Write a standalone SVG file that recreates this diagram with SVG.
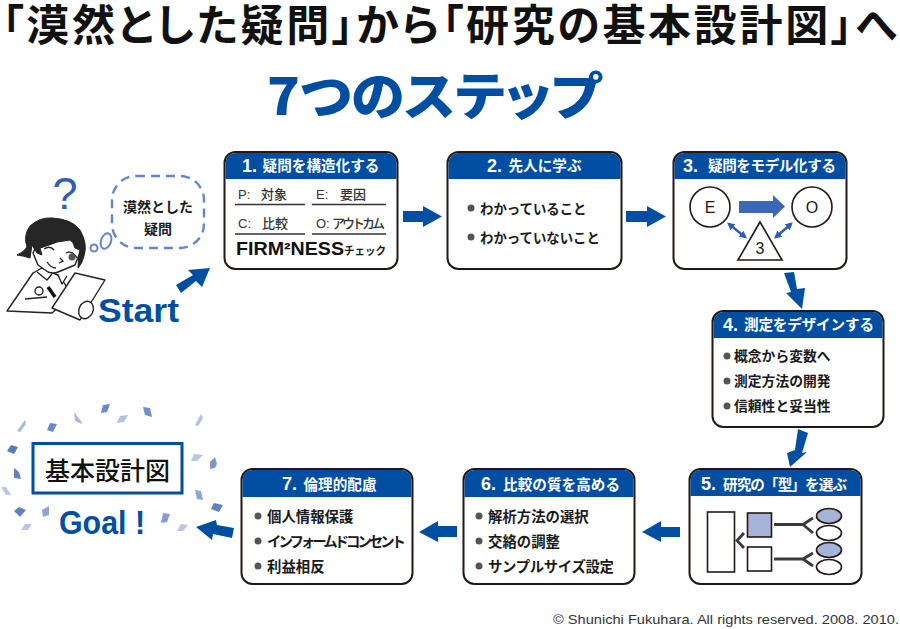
<svg xmlns="http://www.w3.org/2000/svg" width="900" height="629" viewBox="0 0 900 629">
<style>
text{font-family:"Noto Sans CJK JP","Noto Sans CJK SC",sans-serif;fill:#1a1a1a}
.lat{font-family:"Liberation Sans","Noto Sans CJK JP",sans-serif}
.box{fill:#fff;stroke:#231815;stroke-width:2}
.hd{fill:#004ea2}
.ht{fill:#fff;font-weight:700;font-size:14.600px;text-anchor:middle}
.num{font-family:"Liberation Sans",sans-serif;font-size:18px;fill:#fff}
.it{font-weight:700;font-size:14.400px}
.it2{font-weight:700;font-size:13.400px}
.lb{font-size:13px;font-weight:500;fill:#333}
.dot{fill:#555}
.ln{stroke:#333;stroke-width:1.500;fill:none}
.ar{fill:#004ea2}
.leaf{fill:#4f74bd}
.shape{fill:#fff;stroke:#231815;stroke-width:1.600}
.tint{fill:#a5b4d8;stroke:#231815;stroke-width:1.600}
.fork{fill:none;stroke:#3a3a3a;stroke-width:2.800}
.dbl{stroke:#2c5fb0;stroke-width:2.400;fill:none;marker-start:url(#s);marker-end:url(#s)}
.ink{fill:#fff;stroke:#222;stroke-width:1.400;stroke-linejoin:round}
.ttl{font-family:"Liberation Sans","Noto Sans CJK JP",sans-serif;font-size:43px;font-weight:700;font-feature-settings:'palt';fill:#111}
</style>
<defs><marker id="s" viewBox="0 0 6 6" refX="4" refY="3" markerWidth="3.200" markerHeight="3.200" orient="auto-start-reverse"><path d="M0 0L6 3L0 6Z" fill="#2c5fb0"/></marker></defs>
<rect width="900" height="629" fill="#fff"/>
<text id="title" class="ttl" x="2" y="41" textLength="895" lengthAdjust="spacing">「漠然とした疑問」から「研究の基本設計図」へ</text>
<text x="267" y="115" font-size="51" font-weight="900" style="fill:#004ea2;font-feature-settings:'palt'" textLength="334" lengthAdjust="spacingAndGlyphs">7つのステップ</text>

<g id="doctor">
<path class="ink" d="M7 311L33 273L42 268L60 276L72 296L52 313Z"/>
<path class="ink" d="M37 272L47 280L52 274M58 275L62 284L67 276"/>
<path d="M25 299L47 297" stroke="#222" stroke-width="1.300"/>
<circle cx="39" cy="291" r="4" class="ink"/>
<path d="M48 287L55 297" stroke="#111" stroke-width="3.500"/>
<path class="ink" d="M33 253L38 265L48 272Q54 274 58 272L75 265L81 250L72 236L40 238Z"/>
<path d="M17 255Q24 252 27 247Q23 236 30 226Q40 217 52 218Q72 219 80 230Q88 244 84 256Q82 264 78 268Q78 258 80 250L75 248Q73 241 70 240L57 242Q47 246 40 248L42 255L37 253L32 245L30 258Q24 256 17 255Z" fill="#262626" stroke="#222"/>
<path d="M44 249Q50 245 54 250M66 253Q72 250 77 258" fill="none" stroke="#222" stroke-width="1.300"/>
<circle cx="72" cy="257" r="3.500" fill="#555"/>
<path d="M60 258L63 261L59 263M47 262Q51 268 56 268" fill="none" stroke="#222" stroke-width="1.300"/>
<path class="ink" d="M75 273L105 280L80 320L52 308Z"/>
<ellipse cx="86" cy="310" rx="7" ry="9" transform="rotate(25 86 310)" class="ink"/>
</g>
<g id="question"><text x="65" y="209" font-size="45" text-anchor="middle" class="lat" style="fill:#2f5fb3">?</text></g>
<g id="thought">
<rect x="112" y="176" width="92" height="72" rx="24" fill="#fff" stroke="#6685c9" stroke-width="2.400" stroke-dasharray="9 6"/>
<ellipse cx="106" cy="241" rx="5" ry="8" transform="rotate(20 106 241)" fill="#fff" stroke="#6685c9" stroke-width="2"/>
<circle cx="94" cy="248" r="3.500" fill="#fff" stroke="#6685c9" stroke-width="2"/>
<text x="158" y="212" font-size="14" font-weight="700" text-anchor="middle">漠然とした</text>
<text x="158" y="234" font-size="14" font-weight="700" text-anchor="middle">疑問</text>
</g>
<g id="start"><text x="98" y="322" font-size="34" font-weight="700" class="lat" style="fill:#004ea2" textLength="81" lengthAdjust="spacingAndGlyphs">Start</text></g>

<g id="node1"><rect class="box" x="224.500" y="152" width="173" height="117" rx="11"/>
<path class="hd" d="M225.500 179V163a10 10 0 0 1 10-10h151a10 10 0 0 1 10 10v16z"/>
<text class="num" x="242" y="172" font-weight="700">1.</text><text class="ht" x="321" y="171">疑問を構造化する</text>
<text class="lb lat" x="238" y="199">P:</text><text class="lb" x="261" y="199">対象</text>
<text class="lb lat" x="316" y="199">E:</text><text class="lb" x="340" y="199">要因</text>
<path class="ln" d="M235 204.500H305M312 204.500H386M235 234H305M312 234H386"/>
<text class="lb lat" x="238" y="228">C:</text><text class="lb" x="262" y="228">比較</text>
<text class="lb lat" x="316" y="228">O:</text><text class="lb" x="332" y="228" textLength="53">アウトカム</text>
<text x="236" y="255" font-size="18" font-weight="700" class="lat" style="fill:#111" textLength="108" lengthAdjust="spacingAndGlyphs">FIRM²NESS</text>
<text x="344" y="255" font-size="11" font-weight="700" textLength="42" lengthAdjust="spacingAndGlyphs">チェック</text>
</g>
<g id="node2"><rect class="box" x="447.500" y="152" width="174" height="117" rx="11"/>
<path class="hd" d="M448.500 179V163a10 10 0 0 1 10-10h152a10 10 0 0 1 10 10v16z"/>
<text class="num" x="487" y="172" font-weight="700">2.</text><text class="ht" x="545" y="171">先人に学ぶ</text>
<circle class="dot" cx="471" cy="208" r="3.500"/><text class="it2" x="480" y="214">わかっていること</text>
<circle class="dot" cx="471" cy="237" r="3.500"/><text class="it2" x="480" y="243">わかっていないこと</text>
</g>
<g id="node3"><rect class="box" x="673.500" y="152" width="173" height="117" rx="11"/>
<path class="hd" d="M674.500 179V163a10 10 0 0 1 10-10h151a10 10 0 0 1 10 10v16z"/>
<text class="num" x="683" y="172" font-weight="700">3.</text><text class="ht" x="772" y="171" textLength="128">疑問をモデル化する</text>
<circle class="shape" cx="710" cy="207" r="20"/><text class="lat" x="710" y="213" font-size="16" text-anchor="middle">E</text>
<circle class="shape" cx="812" cy="207" r="20"/><text class="lat" x="812" y="213" font-size="16" text-anchor="middle">O</text>
<path d="M739 201H773V195L785 206.500L773 218V213H739Z" fill="#3a68b5"/>
<path class="shape" d="M760 222L738 260H782Z"/><text class="lat" x="760" y="254" font-size="16" text-anchor="middle">3</text>
<path class="dbl" d="M729 224L745 237"/>
<path class="dbl" d="M776 237L791 224"/>
</g>
<g id="node4"><rect class="box" x="712.500" y="311" width="171" height="116" rx="11"/>
<path class="hd" d="M713.500 338V322a10 10 0 0 1 10-10h149a10 10 0 0 1 10 10v16z"/>
<text class="num" x="723" y="331" font-weight="700">4.</text><text class="ht" x="809" y="330" textLength="130">測定をデザインする</text>
<circle class="dot" cx="727" cy="356" r="3.500"/><text class="it2" x="734" y="361" style="font-size:13.800px">概念から変数へ</text>
<circle class="dot" cx="727" cy="381" r="3.500"/><text class="it2" x="734" y="386" style="font-size:13.800px">測定方法の開発</text>
<circle class="dot" cx="727" cy="406" r="3.500"/><text class="it2" x="734" y="411" style="font-size:13.800px">信頼性と妥当性</text>
</g>
<g id="node5"><rect class="box" x="689.500" y="469" width="172" height="115" rx="11"/>
<path class="hd" d="M690.500 496V480a10 10 0 0 1 10-10h150a10 10 0 0 1 10 10v16z"/>
<text class="num" x="701" y="490" font-weight="700">5.</text><text class="ht" x="785" y="490" textLength="124">研究の「型」を選ぶ</text>
<rect class="shape" x="707.500" y="512" width="27" height="60"/>
<rect class="tint" x="747.500" y="513" width="24" height="24"/>
<rect class="shape" x="747.500" y="547" width="24" height="24"/>
<ellipse class="tint" cx="829" cy="516" rx="12.500" ry="7.500"/>
<ellipse class="shape" cx="829" cy="533" rx="12.500" ry="7.500"/>
<ellipse class="tint" cx="829" cy="550" rx="12.500" ry="7.500"/>
<ellipse class="shape" cx="829" cy="567" rx="12.500" ry="7.500"/>
<path class="fork" d="M774 524.500H803L813 518M803 524.500L813 533M774 559H803L813 553M803 559L813 566M744 533L737 540.500L744 548"/>
</g>
<g id="node6"><rect class="box" x="463.500" y="469" width="171" height="115" rx="11"/>
<path class="hd" d="M464.500 497V480a10 10 0 0 1 10-10h149a10 10 0 0 1 10 10v17z"/>
<text class="num" x="481" y="490" font-weight="700">6.</text><text class="ht" x="561.500" y="490" textLength="117">比較の質を高める</text>
<circle class="dot" cx="479" cy="516" r="3.500"/><text class="it" x="488" y="522">解析方法の選択</text>
<circle class="dot" cx="479" cy="541" r="3.500"/><text class="it" x="488" y="547">交絡の調整</text>
<circle class="dot" cx="479" cy="566" r="3.500"/><text class="it" x="488" y="572" textLength="126">サンプルサイズ設定</text>
</g>
<g id="node7"><rect class="box" x="241.500" y="469" width="171" height="115" rx="11"/>
<path class="hd" d="M242.500 497V480a10 10 0 0 1 10-10h149a10 10 0 0 1 10 10v17z"/>
<text class="num" x="282" y="490" font-weight="700">7.</text><text class="ht" x="340" y="490">倫理的配慮</text>
<circle class="dot" cx="258" cy="516" r="3.500"/><text class="it" x="267" y="522">個人情報保護</text>
<circle class="dot" cx="258" cy="541" r="3.500"/><text class="it" x="267" y="547" textLength="139">インフォームドコンセント</text>
<circle class="dot" cx="258" cy="566" r="3.500"/><text class="it" x="267" y="572">利益相反</text>
</g>
<g id="goal">
<rect x="33" y="443.500" width="149" height="49.500" fill="#fff" stroke="#004ea2" stroke-width="3"/>
<text x="107.500" y="480" font-size="25" font-weight="500" text-anchor="middle" style="fill:#111">基本設計図</text>
<text x="59" y="534" font-size="33" font-weight="700" class="lat" style="fill:#004ea2" textLength="86" lengthAdjust="spacingAndGlyphs">Goal !</text>
<g class="leaf">
<path opacity=".85" d="M103 405L110 404L107 412L101 413Z"/>
<path opacity=".8" d="M143 407L150 408L152 417L145 415Z"/>
<path opacity=".5" d="M74 412L81 421L82 424L75 421Z"/>
<path opacity=".45" d="M120 416L128 415L124 422L117 423Z"/>
<path opacity=".45" d="M201 414L203 418L198 426L195 425Z"/>
<path opacity=".5" d="M25 420L26 424L20 432L17 431Z"/>
<path opacity=".85" d="M50 423L57 424L53 432L47 430Z"/>
<path opacity=".95" d="M11 445L18 447L14 454L7 451Z"/>
<path opacity=".4" d="M194 454L203 455L197 461L191 461Z"/>
<path opacity=".75" d="M215 457L217 464L215 468L210 469L210 462Z"/>
<path opacity=".9" d="M14 468L19 472L21 479L14 478Z"/>
<path opacity=".4" d="M1 487L6 487L11 495L6 495Z"/>
<path opacity=".65" d="M195 490L201 491L203 500L197 499Z"/>
<path opacity=".9" d="M214 503L223 505L219 512L211 509Z"/>
<path opacity=".9" d="M19 507L26 510L20 517L14 511Z"/>
<path opacity=".65" d="M49 506L49 515L43 517L42 510Z"/>
<path opacity=".7" d="M163 513L170 514L167 522L161 523Z"/>
<path opacity=".4" d="M25 524L32 524L28 530L21 530Z"/>
<path opacity=".4" d="M181 524L188 525L183 531L177 531Z"/>
</g>
</g>
<g id="connectors">
<path class="ar" d="M176 285L193 275L188 270L210 268L202 287L196 281L181 293Z"/>
<path class="ar" d="M403 211H423V206L442 216.500L423 227V222H403Z"/>
<path class="ar" d="M626 211H647V206L666 216.500L647 227V222H626Z"/>
<path class="ar" d="M784 273L794 272L797 289L805 288L802 309L786 293L791 292Z"/>
<path class="ar" d="M798 429L808 433L802 453L807 452L790 467L787 453L795 450Z"/>
<path class="ar" d="M680 527H661V521L642 532L661 542V537H680Z"/>
<path class="ar" d="M457 526H438V521L419 532L438 542V537H457Z"/>
<path class="ar" d="M234 528L217 525L216 520L196 527L212 540L213 534L232 538Z"/>
</g>
<g id="copyright"><text x="553" y="624" font-size="13" class="lat" style="fill:#333" textLength="346" lengthAdjust="spacingAndGlyphs">© Shunichi Fukuhara. All rights reserved. 2008. 2010.</text></g>
</svg>
